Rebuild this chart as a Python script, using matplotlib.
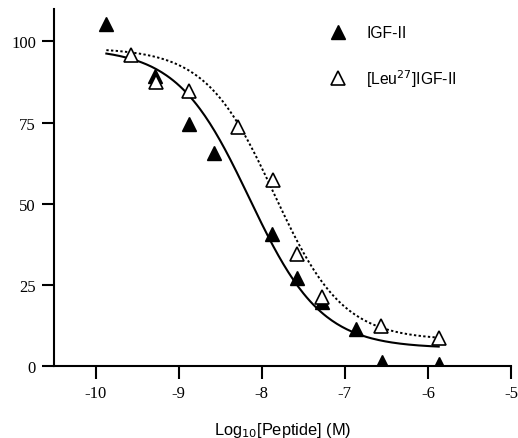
import numpy as np
import matplotlib.pyplot as plt
from matplotlib.lines import Line2D

# log10 concentration (M) and % binding
igf2_x = [-9.87, -9.29, -8.87, -8.57, -7.88, -7.57, -7.27, -6.87, -6.55, -5.87]
igf2_y = [105.5, 89.5, 74.7, 65.7, 40.7, 27.2, 19.8, 11.4, 1.2, 0.6]

leu27_x = [-9.57, -9.27, -8.87, -8.28, -7.87, -7.57, -7.27, -6.57, -5.87]
leu27_y = [95.7, 87.6, 84.6, 73.7, 57.2, 34.6, 21.3, 12.3, 8.6]

# fitted four-parameter logistic curves: top, bottom, logIC50, hill slope
igf2_fit = [98.0, 5.5, -8.15, 1.0]
leu27_fit = [98.0, 8.0, -7.85, 1.05]

xticks = [-10, -9, -8, -7, -6, -5]
yticks = [0, 25, 50, 75, 100]

serif = ['Liberation Serif', 'DejaVu Serif']
sans = ['Liberation Sans', 'DejaVu Sans']


def logistic(x, p):
    top, bottom, logic50, hill = p
    return bottom + (top - bottom) / (1 + 10 ** ((x - logic50) * hill))


fig = plt.figure(figsize=(5.18, 4.39), dpi=100)
ax = fig.add_axes([54 / 518, 1 - 367 / 439, (511 - 54) / 518, (367 - 10) / 439])

xs = np.linspace(min(igf2_x), max(igf2_x), 200)
ax.plot(xs, logistic(xs, igf2_fit), color='black', lw=1.5)
xs = np.linspace(min(leu27_x) - 0.3, max(leu27_x), 200)
ax.plot(xs, logistic(xs, leu27_fit), color='black', lw=1.4, ls=(0, (1.2, 1.2)))

ax.plot(igf2_x, igf2_y, ls='none', marker='^', ms=10, mfc='black', mec='black')
ax.plot(leu27_x, leu27_y, ls='none', marker='^', ms=10, mfc='white', mec='black',
        mew=1.2)

ax.set_xlim(-10.5, -5)
ax.set_ylim(0, 110)
ax.set_xticks(xticks)
ax.set_yticks(yticks)
ax.set_xticklabels([str(t) for t in xticks], family=serif, fontsize=12)
ax.set_yticklabels([str(t) for t in yticks], family=serif, fontsize=12)
ax.tick_params(direction='out', length=9, width=1.5, pad=4)
ax.tick_params(axis='x', pad=5)
for s in ['top', 'right']:
    ax.spines[s].set_visible(False)
for s in ['left', 'bottom']:
    ax.spines[s].set_linewidth(1.5)

ax.set_xlabel('Log$_{10}$[Peptide] (M)', family=sans, fontsize=11.8, labelpad=13)

handles = [
    Line2D([], [], ls='none', marker='^', ms=10, mfc='black', mec='black'),
    Line2D([], [], ls='none', marker='^', ms=10, mfc='white', mec='black', mew=1.2),
]
labels = ['IGF-II', '[Leu$^{27}$]IGF-II']
ax.legend(handles, labels, loc='upper left', bbox_to_anchor=(330 / 518, 1 - 26.5 / 439),
          bbox_transform=fig.transFigure, frameon=False, handlelength=1.0,
          handletextpad=1.3, labelspacing=1.7, borderpad=0, borderaxespad=0,
          prop={'family': sans, 'size': 11.3})

fig.savefig('out.png', dpi=100)
